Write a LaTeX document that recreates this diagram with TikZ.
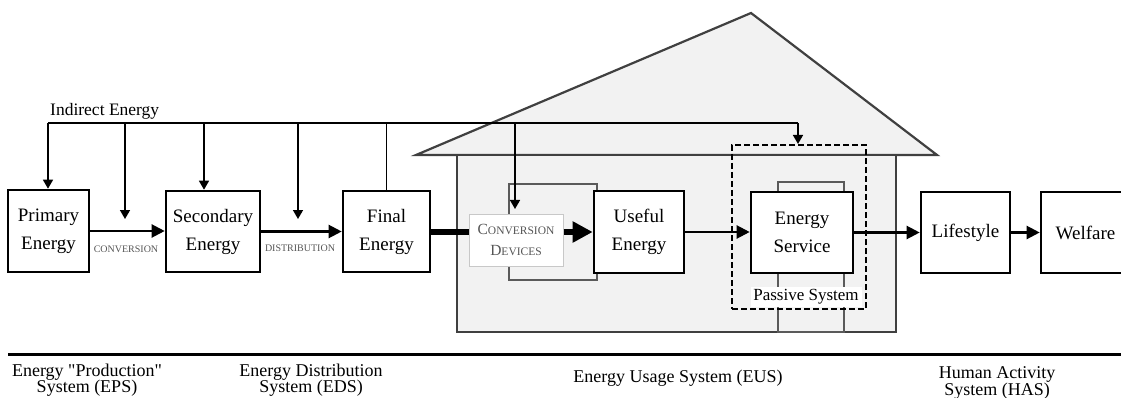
\documentclass[tikz,border=0pt]{standalone}
\usepackage{fontspec}
\setmainfont{Liberation Serif}
\newfontfamily\plainserif{Liberation Serif}
\usetikzlibrary{arrows.meta,calc}
\definecolor{housefill}{HTML}{F2F2F2}
\definecolor{houseline}{HTML}{404040}
\definecolor{framegray}{HTML}{5A5A5A}
\definecolor{labelgray}{HTML}{555555}
\definecolor{cdborder}{HTML}{C8C8C8}
\newcommand\fs[2]{\fontsize{#1}{#2}\selectfont}
\begin{document}
\begin{tikzpicture}[x=1pt,y=-1pt,
  box/.style={draw=black,line width=2.6pt,fill=white,align=center,font=\fs{19}{28},inner sep=0pt},
  flow/.style={line width=2.2pt,-{Triangle[length=13pt,width=13pt]}},
  thinarrow/.style={line width=1.5pt,-{Triangle[length=9pt,width=10pt]}},
  ind/.style={line width=1.5pt},
  framebox/.style={draw=framegray,line width=2pt},
  housestyle/.style={draw=houseline,fill=housefill,line width=2.2pt},
  botlabel/.style={font=\fs{18}{16.5},align=center,inner sep=0pt},
  steplabel/.style={font=\fs{10}{12},text=labelgray,inner sep=0pt}
  ]
\useasboundingbox (0,0) rectangle (1121,398);

% house
\draw[housestyle] (416,155) -- (751,13) -- (937,155) -- cycle;
\draw[housestyle] (457,155) rectangle (896,332);

% frames behind devices / service
\draw[framebox] (509,184) rectangle (597,280);
\draw[framebox] (778,182) rectangle (844,332);

% boxes
\node[box,minimum width=81pt,minimum height=82pt] (P) at (48.5,231) {Primary\\Energy};
\node[box,minimum width=94pt,minimum height=81pt] (S) at (213,231.5) {Secondary\\Energy};
\node[box,minimum width=87pt,minimum height=81pt] (F) at (386.5,231.5) {Final\\Energy};
\node[draw=cdborder,fill=white,line width=1pt,minimum width=94pt,minimum height=52pt,
      align=center,text=labelgray,inner sep=0pt,font=\fs{11.5}{21}] (CD) at (516,240)
      {{\fs{15.5}{21}C}ONVERSION\\{\fs{15.5}{21}D}EVICES};
\node[box,minimum width=90pt,minimum height=82pt] (U) at (639,232) {Useful\\Energy};
\node[box,minimum width=102pt,minimum height=81pt] (ES) at (802,232.5) {Energy\\Service};
\node[box,minimum width=89pt,minimum height=81pt] (L) at (965.5,232.5) {Lifestyle};
\node[box,minimum width=89pt,minimum height=81pt] (W) at (1085.5,232.5) {Welfare};

% passive system
\node[fill=white,inner sep=0pt,font=\fs{17}{20},minimum width=111pt,minimum height=20pt] (PS) at (806,297) {Passive System};
\node[draw=black,dash pattern=on 6pt off 3pt,line width=2pt,minimum width=134pt,minimum height=164pt,inner sep=0pt] (PB) at (799,227) {};

% indirect energy
\node[anchor=base west,font=\fs{17.5}{20},inner sep=0pt] (IE) at (50,116) {Indirect Energy};
\coordinate (i0) at (48,123);
\coordinate (i1) at (125,123);
\coordinate (i2) at (204,123);
\coordinate (i3) at (298,123);
\coordinate (i4) at (386.5,123);
\coordinate (i5) at (515,123);
\coordinate (i6) at (798,123);
\coordinate (c1) at (125,219);
\coordinate (c2) at (298,219);
\coordinate (c5) at (515,209);
\draw[ind] (i0) -- (i6);
\draw[thinarrow] (i0) -- (i0 |- P.north);
\draw[thinarrow] (i1) -- (c1);
\draw[thinarrow] (i2) -- (i2 |- S.north);
\draw[thinarrow] (i3) -- (c2);
\draw[ind] (F.north) -- (i4);
\draw[thinarrow] (i5) -- (c5);
\draw[thinarrow] (i6) -- (i6 |- PB.north);

% flows
\draw[flow] (P.east) -- (P.east -| S.west);
\draw[flow] (S.east) -- (F.west);
\draw[line width=6pt] (F.east) -- (F.east -| CD.west);
\draw[line width=6pt,-{Triangle[length=20pt,width=20pt]}] (CD.east |- U.west) -- (U.west);
\draw[flow] (U.east) -- (U.east -| ES.west);
\draw[flow] (ES.east) -- (L.west);
\draw[flow] (L.east) -- (W.west);

\node[steplabel] (cv) at (126,249) {CONVERSION};
\node[steplabel] (ds) at (300,248) {DISTRIBUTION};

% bottom divider and system labels
\coordinate (d0) at (8,354);
\coordinate (d1) at (1121,354);
\draw[line width=3pt] (d0) -- (d1);
\node[botlabel] (EPS) at (87,380) {Energy {\plainserif "}Production{\plainserif "}\\System (EPS)};
\node[botlabel] (EDS) at (311,380) {Energy Distribution\\System (EDS)};
\node[botlabel] (EUS) at (678,378) {Energy Usage System (EUS)};
\node[botlabel] (HAS) at (997,383) {Human Activity\\System (HAS)};
\end{tikzpicture}
\end{document}
